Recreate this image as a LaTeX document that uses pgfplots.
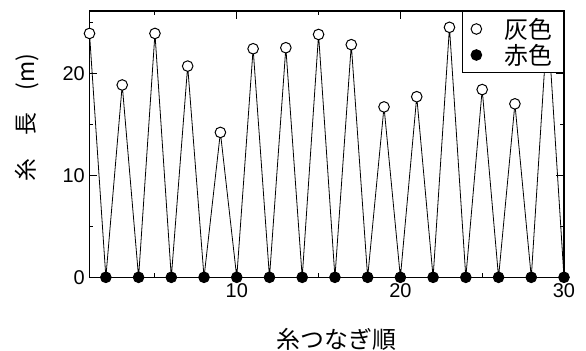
\documentclass[border=0pt]{standalone}
\usepackage{pgfplots}
\pgfplotsset{compat=1.18}
\usepackage{fontspec}
\setmainfont{Liberation Sans}
\newfontfamily\jp{Noto Sans CJK JP}

\begin{document}
\begin{tikzpicture}
\begin{axis}[
  name=ax,
  scale only axis,
  width=474.5bp, height=266.3bp,
  xmin=1, xmax=30, ymin=0, ymax=26.1,
  xtick={10,20,30}, minor xtick={5,15,25},
  ytick={0,10,20}, minor ytick={5,15,25},
  tick align=inside,
  major tick length=8bp, minor tick length=4bp,
  axis line style={line width=1.1bp},
  every tick/.style={black, line width=0.9bp},
  tick label style={font=\fontsize{20}{20}\selectfont},
  /pgf/number format/assume math mode=true,
  xticklabel style={yshift=-2.7bp},
  yticklabel style={xshift=-1.3bp},
  clip=false,
  xlabel={\jp 糸つなぎ順},
  xlabel style={at={(axis description cs:0.52,-0.2317)}, anchor=center,
    font=\fontsize{24}{24}\selectfont},
  ylabel={\jp 糸　長　(m)},
  ylabel style={at={(axis description cs:-0.1307,0.6)}, anchor=center,
    font=\fontsize{23}{23}\selectfont},
  legend style={at={(axis description cs:1,1)}, anchor=north east,
    draw=black, line width=1bp, fill=white,
    font=\jp\fontsize{24}{24}\selectfont,
    inner xsep=9bp, inner ysep=4.5bp, row sep=0bp, column sep=21bp,
    nodes={inner xsep=2bp, inner ysep=0bp, text height=22.1bp, text depth=3.9bp}},
  legend cell align=left,
]
% thread joined in order: odd positions carry the length, even ones sit at zero
\addplot[black, line width=0.8bp, forget plot] coordinates {
  (1,23.9) (2,0) (3,18.85) (4,0) (5,23.9) (6,0) (7,20.7) (8,0)
  (9,14.2) (10,0) (11,22.4) (12,0) (13,22.5) (14,0) (15,23.8) (16,0)
  (17,22.8) (18,0) (19,16.7) (20,0) (21,17.7) (22,0) (23,24.5) (24,0)
  (25,18.4) (26,0) (27,17.0) (28,0) (29,25.2) (30,0)
};
% grey threads
\addplot[only marks, mark=*, mark size=5.3bp,
  mark options={fill=white, draw=black, line width=1bp}] coordinates {
  (1,23.9) (3,18.85) (5,23.9) (7,20.7) (9,14.2) (11,22.4) (13,22.5)
  (15,23.8) (17,22.8) (19,16.7) (21,17.7) (23,24.5) (25,18.4)
  (27,17.0) (29,25.2)
};
\addlegendentry{灰色}
% red threads
\addplot[only marks, mark=*, mark size=5.3bp,
  mark options={fill=black, draw=black, line width=1bp}] coordinates {
  (2,0) (4,0) (6,0) (8,0) (10,0) (12,0) (14,0) (16,0)
  (18,0) (20,0) (22,0) (24,0) (26,0) (28,0) (30,0)
};
\addlegendentry{赤色}
\end{axis}
\pgfresetboundingbox
\useasboundingbox ([shift={(-89.5bp,-73.7bp)}]ax.south west)
  rectangle ([shift={(22bp,11bp)}]ax.north east);
\end{tikzpicture}
\end{document}
